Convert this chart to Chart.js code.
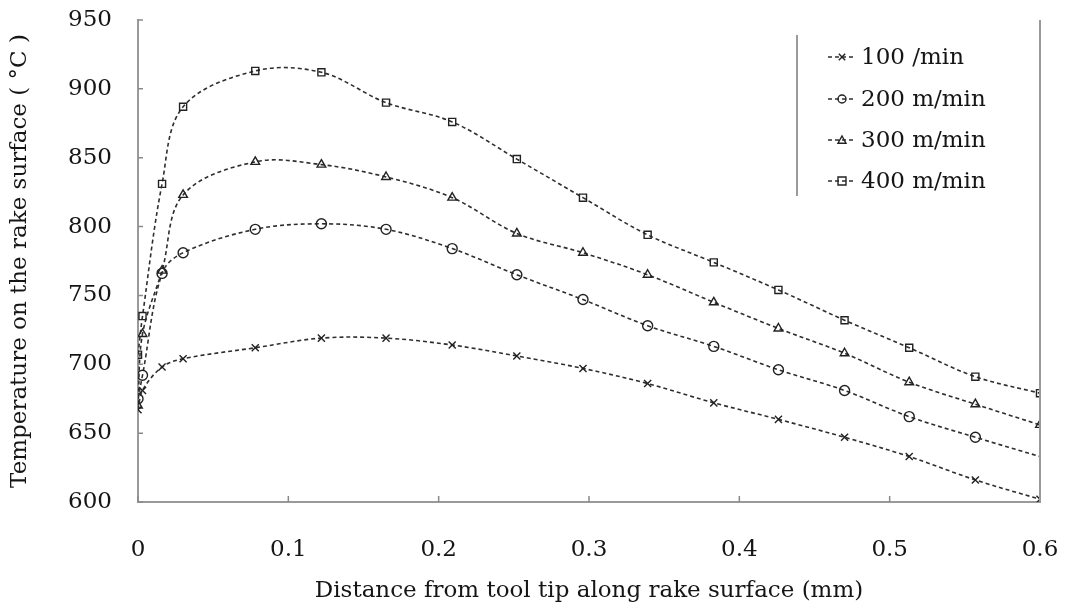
<!DOCTYPE html>
<html>
<head>
<meta charset="utf-8">
<script src="https://cdn.jsdelivr.net/npm/chart.js@4/dist/chart.umd.min.js"></script>
<style>
  html, body { margin: 0; padding: 0; background: #fff; }
  #wrap { width: 1066px; height: 612px; }
</style>
</head>
<body>
<div id="wrap"><canvas id="tempChart" width="1066" height="612"></canvas></div>
<script>
// Distance from tool tip (mm)
const distances = [0, 0.003, 0.016, 0.030, 0.078, 0.122, 0.165, 0.209, 0.252, 0.296, 0.339, 0.383, 0.426, 0.470, 0.513, 0.557, 0.600];

// Temperatures (deg C) per cutting speed
const temp100 = [667, 681, 698, 704, 712, 719, 719, 714, 706, 697, 686, 672, 660, 647, 633, 616, 602];
const temp200 = [675, 692, 766, 781, 798, 802, 798, 784, 765, 747, 728, 713, 696, 681, 662, 647, 633];
const temp300 = [670, 722, 768, 823, 847, 845, 836, 821, 795, 781, 765, 745, 726, 708, 687, 671, 656];
const temp400 = [707, 735, 831, 887, 913, 912, 890, 876, 849, 821, 794, 774, 754, 732, 712, 691, 679];

const seriesLabels = ['100 /min', '200 m/min', '300 m/min', '400 m/min'];
const seriesMarkers = ['crossRot', 'circle', 'triangle', 'rect'];

const yTicks = [600, 650, 700, 750, 800, 850, 900, 950];
const xTicks = [0, 0.1, 0.2, 0.3, 0.4, 0.5, 0.6];

const INK = '#2e2e2e';
const TEXT = '#151515';
const FONT = 'DejaVu Serif';

function toPoints(values) {
  return values.map((v, i) => ({ x: distances[i], y: v }));
}

function makeDataset(label, values, marker, idx) {
  return {
    label: label,
    data: toPoints(values),
    borderColor: INK,
    borderWidth: 1.6,
    borderDash: [4, 3],
    pointStyle: marker,
    pointRadius: ctx => (idx === 1 && ctx.dataIndex === values.length - 1) ? 0 : 5,
    pointBorderColor: '#222',
    pointBorderWidth: 1.4,
    pointBackgroundColor: 'rgba(255,255,255,0)',
    tension: 0.35,
    fill: false
  };
}

// Inner tick marks + right frame line
const frameTicks = {
  id: 'frameTicks',
  afterDraw(chart) {
    const { ctx, chartArea, scales } = chart;
    ctx.save();
    ctx.strokeStyle = '#8a8a8a';
    ctx.lineWidth = 1.5;
    ctx.beginPath();
    yTicks.forEach(v => {
      const y = scales.y.getPixelForValue(v);
      ctx.moveTo(chartArea.left, y);
      ctx.lineTo(chartArea.left + 5, y);
    });
    xTicks.forEach(v => {
      const x = scales.x.getPixelForValue(v);
      ctx.moveTo(x, chartArea.bottom);
      ctx.lineTo(x, chartArea.bottom - 6);
    });
    ctx.stroke();
    ctx.lineWidth = 2;
    ctx.strokeStyle = '#9a9a9a';
    ctx.beginPath();
    ctx.moveTo(chartArea.right, chartArea.top);
    ctx.lineTo(chartArea.right, chartArea.bottom);
    ctx.stroke();
    ctx.restore();
  }
};

function drawMarker(ctx, style, x, y, r) {
  ctx.beginPath();
  if (style === 'circle') {
    ctx.arc(x, y, r, 0, Math.PI * 2);
  } else if (style === 'rect') {
    ctx.rect(x - r, y - r, r * 2, r * 2);
  } else if (style === 'triangle') {
    ctx.moveTo(x, y - r);
    ctx.lineTo(x + r, y + r * 0.8);
    ctx.lineTo(x - r, y + r * 0.8);
    ctx.closePath();
  } else {
    ctx.moveTo(x - r * 0.8, y - r * 0.8);
    ctx.lineTo(x + r * 0.8, y + r * 0.8);
    ctx.moveTo(x + r * 0.8, y - r * 0.8);
    ctx.lineTo(x - r * 0.8, y + r * 0.8);
  }
  ctx.stroke();
}

// Legend box inside the plot, top right
const innerLegend = {
  id: 'innerLegend',
  afterDraw(chart) {
    const ctx = chart.ctx;
    const left = 797, top = 35, bottom = 196;
    const rows = [57, 99, 140, 181];
    ctx.save();
    ctx.strokeStyle = '#9a9a9a';
    ctx.lineWidth = 2;
    ctx.beginPath();
    ctx.moveTo(left, top);
    ctx.lineTo(left, bottom);
    ctx.stroke();

    ctx.font = '23px "' + FONT + '"';
    ctx.fillStyle = TEXT;
    ctx.textBaseline = 'middle';
    rows.forEach((y, i) => {
      ctx.strokeStyle = INK;
      ctx.lineWidth = 1.6;
      ctx.setLineDash([4, 3]);
      ctx.beginPath();
      ctx.moveTo(828, y);
      ctx.lineTo(856, y);
      ctx.stroke();
      ctx.setLineDash([]);
      ctx.strokeStyle = '#222';
      ctx.lineWidth = 1.4;
      drawMarker(ctx, seriesMarkers[i], 842, y, 4);
      ctx.fillText(seriesLabels[i], 861, y + 1);
    });
    ctx.restore();
  }
};

new Chart(document.getElementById('tempChart'), {
  type: 'line',
  data: {
    datasets: [
      makeDataset(seriesLabels[0], temp100, seriesMarkers[0], 0),
      makeDataset(seriesLabels[1], temp200, seriesMarkers[1], 1),
      makeDataset(seriesLabels[2], temp300, seriesMarkers[2], 2),
      makeDataset(seriesLabels[3], temp400, seriesMarkers[3], 3)
    ]
  },
  options: {
    responsive: false,
    animation: false,
    layout: { padding: { top: 20, right: 26, left: 0, bottom: 0 } },
    plugins: {
      legend: { display: false },
      tooltip: { enabled: false }
    },
    scales: {
      x: {
        type: 'linear',
        min: 0,
        max: 0.6,
        afterFit: s => { s.height = 110; s.paddingLeft = 0; s.paddingRight = 0; },
        afterBuildTicks: s => { s.ticks = xTicks.map(v => ({ value: v })); },
        border: { color: '#9a9a9a', width: 2 },
        grid: { display: false, drawTicks: false },
        ticks: {
          padding: 34,
          color: TEXT,
          font: { family: FONT, size: 23 },
          callback: v => v === 0 ? '0' : v.toFixed(1)
        },
        title: {
          display: true,
          text: 'Distance from tool tip along rake surface (mm)',
          color: TEXT,
          font: { family: FONT, size: 23 },
          padding: { top: 0, bottom: 7 }
        }
      },
      y: {
        min: 600,
        max: 950,
        afterFit: s => { s.width = 138; s.paddingTop = 0; s.paddingBottom = 0; },
        afterBuildTicks: s => { s.ticks = yTicks.map(v => ({ value: v })); },
        border: { color: '#9a9a9a', width: 2 },
        grid: { display: false, drawTicks: false },
        ticks: {
          padding: 26,
          color: TEXT,
          font: { family: FONT, size: 23 }
        },
        title: {
          display: true,
          text: 'Temperature on the rake surface ( °C )',
          color: TEXT,
          font: { family: FONT, size: 23 },
          padding: { top: 6, bottom: 0 }
        }
      }
    }
  },
  plugins: [frameTicks, innerLegend]
});
</script>
</body>
</html>
